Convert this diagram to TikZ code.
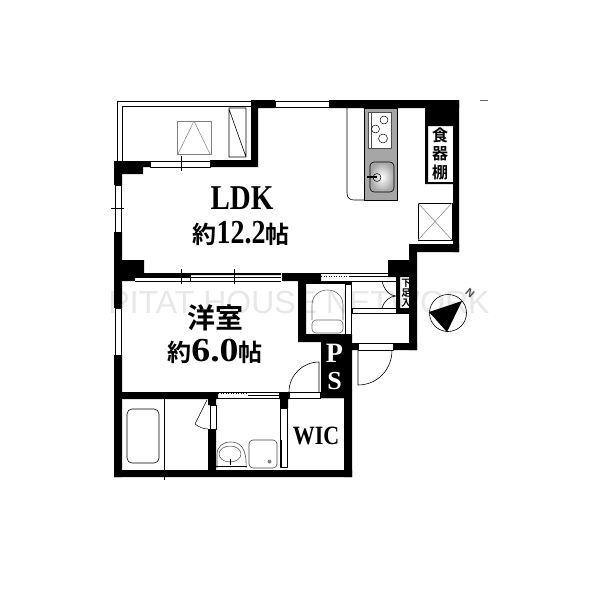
\documentclass[tikz,border=0pt]{standalone}
\usepackage{fontspec}
\setmainfont{Liberation Serif}
\newfontfamily\cjk{Noto Sans CJK JP}[BoldFont={Noto Sans CJK JP Bold}]
\newfontfamily\marksans{Liberation Sans}
\newcommand{\tallbox}[1]{\scalebox{1}[1.2]{#1}}
\tikzset{wall/.style={fill=black,draw=none},
glass/.style={draw=black,fill=white,line width=.7pt},
fix/.style={draw=black,line width=.6pt,fill=white},
label/.style={inner sep=0pt,font=\bfseries}}
\begin{document}
\begin{tikzpicture}[x=1pt,y=-1pt,line join=round]
\useasboundingbox (0,0) rectangle (600,600);
\fill[white] (0,0) rectangle (600,600);
\node[inner sep=0pt,text=black!9] (mark) at (299,302) {\fontsize{32}{32}\marksans PITAT HOUSE NETWORK};
\draw[black!60,line width=.6pt] (480,100)--(488,100);
% balcony
\draw[line width=.8pt] (117,161)--(117,101)--(252,101)(122,161)--(122,106)--(252,106);
\draw[black!50,line width=.6pt] (177,121) rectangle (211,154);
\draw[black!50,line width=.5pt] (178,154)--(194,121)--(210,154);
\draw[line width=.6pt] (229,108) rectangle (246,157) (229,109)--(246,157);
% walls
\fill[wall] (251,100) rectangle (275,108) (329,100) rectangle (459,108) (251,100) rectangle (258,167) (210,160) rectangle (258,167);
\fill[wall] (114,161) rectangle (150,167) (114,161) rectangle (143,174) (114,161) rectangle (122,185) (114,232) rectangle (122,308) (114,355) rectangle (122,477);
\fill[wall] (122,260) rectangle (144,275) (122,273) rectangle (190,277) (122,273) rectangle (135,281) (190,273) rectangle (281,275) (282,273) rectangle (321,281);
\fill[wall] (453,100) rectangle (459,252) (425,108) rectangle (459,126) (425,126) rectangle (428,184) (425,182) rectangle (453,184);
\fill[wall] (409,244) rectangle (459,252) (409,244) rectangle (417,350) (388,260) rectangle (417,277) (396,277) rectangle (400,313) (412,277) rectangle (417,313) (396,308) rectangle (417,313);
\fill[wall] (298,281) rectangle (306,342) (298,334) rectangle (352,342) (321,334) rectangle (352,398) (344,342) rectangle (352,477) (352,343) rectangle (358,350) (393,343) rectangle (417,350);
\fill[wall] (122,392) rectangle (218,399) (279,392) rectangle (289,399) (280,392) rectangle (288,408) (319,392) rectangle (344,398);
\fill[wall] (208,399) rectangle (216,405) (208,429) rectangle (216,470) (114,470) rectangle (352,477);
\fill[wall] (306,281) rectangle (352,284);
% windows and doors
\foreach \xa/\ya/\xb/\yb in {150/161/210/167,275/101/329/107,115/185/121/232,115/308/121/355,345/284/351/334,210/405/216/429,289/392/320/398,358/343/393/350,352/308/396/313,280/408/287/467}
\draw[glass] (\xa,\ya) rectangle (\xb,\yb);
\fill[wall] (280,440) rectangle (282,467);
\draw[line width=.7pt] (135,277)--(281,277)(135,281)--(281,281)(190,275)--(190,281)(321,273)--(388,273)(321,281)--(396,281)(396,313)--(409,313);
\draw[line width=.5pt,dotted] (321,276.5)--(350,276.5)(218,393.5)--(248,393.5);
\draw[line width=.7pt] (218,392)--(279,392)(218,398)--(279,398)(248,395)--(279,395)(350,276.5)--(388,276.5);
\foreach \xa/\ya/\xb/\yb in {181/156/181/171,111/208/124/208,181/269/181/284,234/269/234/284,164/470/164/480}
\draw[line width=.5pt] (\xa,\ya)--(\xb,\yb);
\draw[line width=.6pt] (358,350)--(358,385) .. controls (377,385) and (392,370) .. (392,350);
\draw[line width=.6pt] (289,392) .. controls (289,375) and (303,362) .. (319,362)--(319,392);
\draw[line width=.6pt] (382,281) .. controls (384,290) and (390,296) .. (396,296) .. controls (390,296) and (384,301) .. (382,308);
\draw[line width=.5pt] (207,400)--(195,424) .. controls (199,427) and (203,429) .. (208,429);
\draw[line width=.6pt] (164,399)--(164,470);
% kitchen
\draw[line width=.6pt] (347,108)--(347,193) .. controls (347,198) and (350,200) .. (354,200)--(364,200);
\fill[black!35] (364,108) rectangle (397,200);
\draw[line width=.6pt] (364,108) rectangle (397,200);
\draw[fix,draw=black!70] (368,112) rectangle (391,148) (371,112)--(371,148);
\foreach \x/\y/\r in {384/120/4,375.5/129/4,383/138.5/4.5}
\draw[line width=.5pt] (\x,\y) circle (\r pt);
\shade[inner color=white,outer color=black!35,rounded corners=4pt] (370,162) rectangle (394,192);
\draw[line width=.6pt,rounded corners=4pt] (370,162) rectangle (394,192);
\draw[line width=.5pt] (377,177.5) circle (4pt);
\draw[line width=1.4pt] (367,177)--(377,177);
\draw[line width=.6pt] (418,203) rectangle (452,240);
\draw[black!50,line width=.5pt] (418,203)--(452,240)(452,203)--(418,240);
% toilet and wash room
\draw[black!60,line width=.6pt] (312,320)--(312,305) .. controls (312,295) and (320,290) .. (327.5,290) .. controls (335,290) and (343,295) .. (343,305)--(343,320);
\draw[black!60,line width=.6pt,rounded corners=4pt] (312,320) rectangle (343,333);
\draw[line width=.6pt,rounded corners=5pt] (127,409) rectangle (159,463);
\draw[black!70,line width=.6pt] (217,468)--(217,455) .. controls (217,446) and (223,442) .. (231,442) .. controls (240,442) and (247,448) .. (246,468);
\draw[black!70,line width=.5pt] (230,454) ellipse (11pt and 8pt);
\draw[line width=.7pt] (230,459)--(230,465) (216,466)--(247,466);
\draw[black!70,line width=.6pt,rounded corners=4pt] (249,440) rectangle (277,468);
\fill[black!50] (269.5,461.5) circle (2pt);
% compass
\draw[line width=.6pt] (448,313) circle (18.5pt);
\fill[black] (429,312)--(462,301)--(447,332)--cycle;
\node[label,rotate=-40,text=black!70] (north) at (470,293) {\fontsize{11}{11}\marksans N};
% texts
\node[label] (ldk) at (242,198) {\tallbox{\fontsize{29}{29}\selectfont LDK}};
\node[label] (ldkarea) at (241,233) {{\cjk\fontsize{24}{24}\selectfont 約}\tallbox{\fontsize{28}{28}\selectfont 12.2}{\cjk\fontsize{24}{24}\selectfont 帖}};
\node[label] (room) at (215,318) {\cjk\fontsize{28}{28}\selectfont 洋室};
\node[label] (roomarea) at (215,351) {{\cjk\fontsize{24}{24}\selectfont 約}\scalebox{1.35}[1.2]{\fontsize{28}{28}\selectfont 6.0}{\cjk\fontsize{24}{24}\selectfont 帖}};
\node[label,text=white] (pp) at (334.5,353) {\fontsize{28}{28}\selectfont P};
\node[label,text=white] (ps) at (334.5,381) {\fontsize{26}{26}\selectfont S};
\node[label] (wic) at (316,436) {\tallbox{\fontsize{22}{22}\selectfont WIC}};
\node[label,align=center,font=\cjk\bfseries\fontsize{16}{18.5}\selectfont] (shelf) at (440,153.5) {食\\器\\棚};
\node[label,align=center,font=\cjk\bfseries\fontsize{9.5}{10}\selectfont] (shoe) at (406,293) {下\\足\\入};
\end{tikzpicture}
\end{document}
